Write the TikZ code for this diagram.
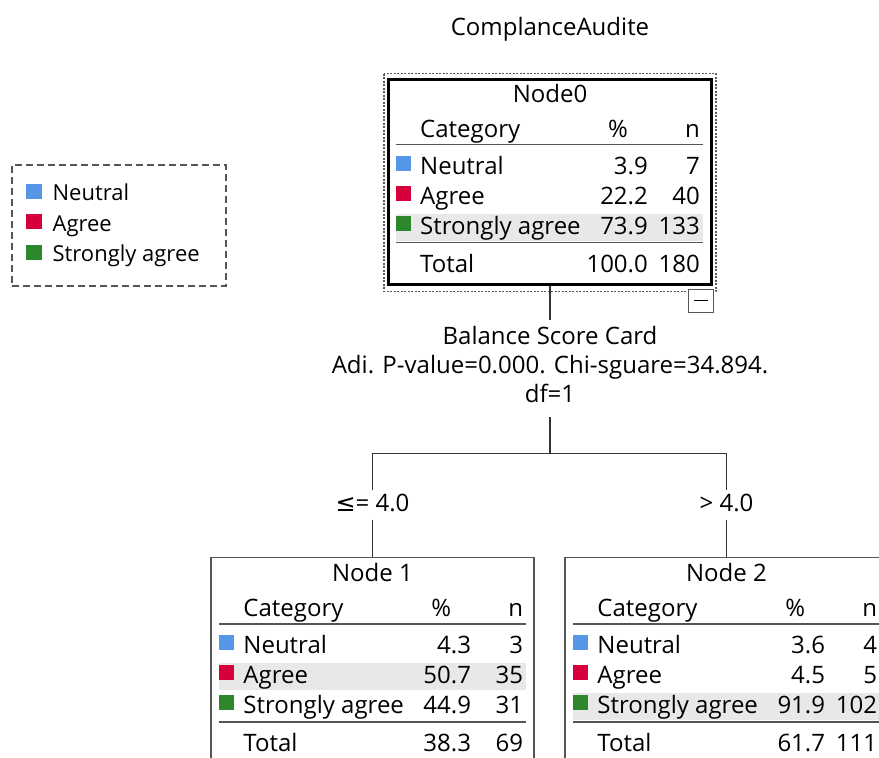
\documentclass[tikz,border=0pt]{standalone}
\usepackage{fontspec}
\setmainfont{Open Sans}
\newfontfamily\symfont{DejaVu Sans}
\usepackage{tikz}
\usetikzlibrary{positioning,calc}

\definecolor{neutralc}{RGB}{85,150,230}
\definecolor{agreec}{RGB}{214,0,60}
\definecolor{strongc}{RGB}{45,135,45}
\definecolor{shadec}{RGB}{232,232,232}
\definecolor{rulec}{RGB}{85,85,85}

\tikzset{
  bigtext/.style={font=\fontsize{24}{29}\selectfont, inner sep=0pt},
  rootbox/.style={draw=black, line width=3pt, minimum width=323pt,
    minimum height=205pt, inner sep=0pt},
  childbox/.style={draw=rulec, line width=1.5pt, minimum width=323pt,
    minimum height=207pt, inner sep=0pt},
  selframe/.style={draw=gray!70!black, line width=1.3pt,
    dash pattern=on 2pt off 1.5pt},
  togglebox/.style={draw=rulec, line width=1.2pt, fill=white,
    minimum width=25pt, minimum height=23pt, inner sep=0pt},
  cellrule/.style={draw=rulec, line width=1.5pt},
  splittext/.style={bigtext, align=center, inner ysep=6pt},
  cutlabel/.style={bigtext, inner ysep=4pt, text height=17.5pt, text depth=4pt},
  legendbox/.style={draw=rulec, line width=1.8pt, dash pattern=on 7pt off 4pt,
    minimum width=214pt, minimum height=121pt, inner sep=0pt},
  legendtext/.style={font=\fontsize{22}{26}\selectfont, inner sep=0pt,
    anchor=base west},
  link/.style={draw=black!80, line width=1.5pt}
}

% category table inside a tree box:
% #1 box, #2 title, #3 rows, #4 total %, #5 total n, #6 shaded row
\newcommand{\cattable}[6]{%
  \pgfmathsetmacro\bandy{67+30*#6}
  \fill[shadec] ([shift={(9,\bandy-21)}]#1.north west)
    rectangle ([shift={(316,\bandy+6)}]#1.north west);
  \node[bigtext, anchor=base] (#1-title) at ([shift={(0,25)}]#1.north) {#2};
  \node[bigtext, anchor=base west] (#1-cat) at ([shift={(33,60)}]#1.north west) {Category};
  \node[bigtext, anchor=base east] (#1-pchead) at ([shift={(241,60)}]#1.north west) {\%};
  \node[bigtext, anchor=base east] (#1-nhead) at ([shift={(313,60)}]#1.north west) {n};
  \draw[cellrule] ([shift={(9,67)}]#1.north west) -- ([shift={(316,67)}]#1.north west);
  \foreach \lab/\col/\pc/\cnt [count=\i] in {#3} {
    \pgfmathsetmacro\rowy{67+30*\i}
    \fill[\col] ([shift={(9,\rowy-19)}]#1.north west)
      rectangle ([shift={(24,\rowy-4)}]#1.north west);
    \node[bigtext, anchor=base west] (#1-lab\i) at ([shift={(33,\rowy)}]#1.north west) {\lab};
    \node[bigtext, anchor=base east] (#1-pc\i) at ([shift={(261,\rowy)}]#1.north west) {\pc};
    \node[bigtext, anchor=base east] (#1-n\i) at ([shift={(313,\rowy)}]#1.north west) {\cnt};
  }
  \draw[cellrule] ([shift={(9,165)}]#1.north west) -- ([shift={(316,165)}]#1.north west);
  \node[bigtext, anchor=base west] (#1-tot) at ([shift={(33,195)}]#1.north west) {Total};
  \node[bigtext, anchor=base east] (#1-totpc) at ([shift={(261,195)}]#1.north west) {#4};
  \node[bigtext, anchor=base east] (#1-totn) at ([shift={(313,195)}]#1.north west) {#5};
}

\begin{document}
\begin{tikzpicture}[x=1pt, y=-1pt]
  \useasboundingbox (0,0) rectangle (879,758);
  \clip (0,0) rectangle (879,758);

  \node[bigtext, anchor=base] (title) at (550,35.5) {ComplanceAudite};

  % legend
  \node[legendbox] (legend) at (119,225.5) {};
  \foreach \lab/\col [count=\i] in {Neutral/neutralc, Agree/agreec, Strongly agree/strongc} {
    \pgfmathsetmacro\legy{6.1+30.4*\i}
    \fill[\col] ([shift={(15.3,\legy-16.7)}]legend.north west)
      rectangle ([shift={(31.3,\legy-1.7)}]legend.north west);
    \node[legendtext] (leg\i) at ([shift={(41.3,\legy)}]legend.north west) {\lab};
  }

  % tree boxes
  \node[rootbox] (node0) at (550,181.5) {};
  \draw[selframe] ([shift={(-3,-4)}]node0.north west) rectangle ([shift={(3,6)}]node0.south east);
  \node[togglebox, anchor=north east] (toggle) at ([shift={(1,3)}]node0.south east) {};
  \draw[line width=1.2pt] ([shift={(6,0)}]toggle.west) -- ([shift={(-6,0)}]toggle.east);
  \cattable{node0}{Node0}{Neutral/neutralc/3.9/7, Agree/agreec/22.2/40,
    Strongly agree/strongc/73.9/133}{100.0}{180}{3}

  \node[childbox] (node1) at (372.5,661) {};
  \cattable{node1}{Node 1}{Neutral/neutralc/4.3/3, Agree/agreec/50.7/35,
    Strongly agree/strongc/44.9/31}{38.3}{69}{2}

  \node[childbox] (node2) at (726.5,661) {};
  \cattable{node2}{Node 2}{Neutral/neutralc/3.6/4, Agree/agreec/4.5/5,
    Strongly agree/strongc/91.9/102}{61.7}{111}{3}

  % split and branches
  \node[splittext, anchor=north] (split) at (550,320)
    {Balance Score Card\\Adi. P-value=0.000. Chi-sguare=34.894.\\df=1\strut};
  \node[cutlabel] (lab1) at (372.5,505) {{\symfont ≤}= 4.0};
  \node[cutlabel] (lab2) at (726.5,505) {> 4.0};

  \draw[link] (node0.south) -- (split.north);
  \draw[link] (split.south) -- ++(0,36) coordinate (fork) -| (lab1.north);
  \draw[link] (fork) -| (lab2.north);
  \draw[link] (lab1.south) -- (node1.north);
  \draw[link] (lab2.south) -- (node2.north);
\end{tikzpicture}
\end{document}
